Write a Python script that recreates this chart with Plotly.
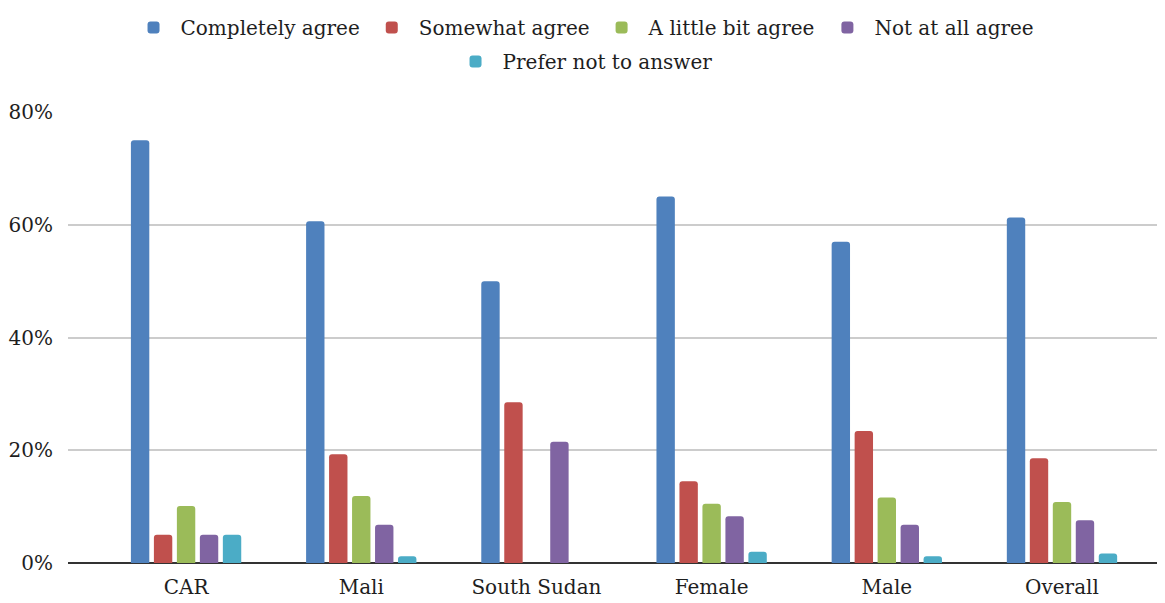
import plotly.graph_objects as go

categories = ["CAR", "Mali", "South Sudan", "Female", "Male", "Overall"]
series_names = ["Completely agree", "Somewhat agree", "A little bit agree",
                "Not at all agree", "Prefer not to answer"]
completely_agree = [75.0, 60.6, 50.0, 65.0, 57.0, 61.3]
somewhat_agree = [5.0, 19.3, 28.5, 14.5, 23.4, 18.6]
little_bit_agree = [10.1, 11.9, 0.0, 10.5, 11.6, 10.8]
not_at_all_agree = [5.0, 6.8, 21.5, 8.3, 6.8, 7.6]
prefer_not = [5.0, 1.2, 0.0, 2.0, 1.2, 1.7]
y_tickvals = [0, 20, 40, 60, 80]
y_ticktext = ["0%", "20%", "40%", "60%", "80%"]

colors = ["#4F81BD", "#C0504D", "#9BBB59", "#8064A2", "#4BACC6"]
values = [completely_agree, somewhat_agree, little_bit_agree, not_at_all_agree, prefer_not]
FONT = "DejaVu Serif"
FS = 20
TXT = "#1E1E1E"

fig = go.Figure()
for i, (name, vals, col) in enumerate(zip(series_names, values, colors)):
    fig.add_trace(go.Bar(
        x=list(range(len(categories))), y=vals, name=name,
        marker=dict(color=col, line=dict(width=0)),
        legend="legend" if i < 4 else "legend2",
        hovertemplate="%{y:.1f}%<extra>" + name + "</extra>",
    ))

# page body has an 8px margin: figure is sized/offset to compensate
fig.update_layout(
    width=1157, height=595,
    margin=dict(l=60, r=0, t=104, b=40, autoexpand=False),
    paper_bgcolor="white", plot_bgcolor="white",
    barmode="group", bargap=0.344, bargroupgap=0.2, barcornerradius=3,
    font=dict(family=FONT, size=FS, color=TXT),
    xaxis=dict(
        tickmode="array", tickvals=list(range(len(categories))), ticktext=categories,
        range=[-0.674, 5.588], showgrid=False, zeroline=False,
        showline=False, ticks="", ticklabelstandoff=10,
        tickfont=dict(size=FS, color=TXT, family=FONT),
    ),
    yaxis=dict(
        range=[0, 80], tickvals=y_tickvals, ticktext=y_ticktext,
        showgrid=True, gridcolor="#CCCCCC", gridwidth=1.5,
        zeroline=True, zerolinecolor="#333333", zerolinewidth=2,
        ticks="", ticklabelstandoff=14, tickfont=dict(size=FS, color=TXT, family=FONT),
    ),
    legend=dict(
        orientation="h", xref="container", yref="container",
        x=0.497, xanchor="center", y=1.0, yanchor="top",
        itemwidth=44,
        font=dict(size=FS, family=FONT, color=TXT),
        itemclick=False, itemdoubleclick=False,
    ),
    legend2=dict(
        orientation="h", xref="container", yref="container",
        x=0.497, xanchor="center", y=0.943, yanchor="top",
        itemwidth=44,
        font=dict(size=FS, family=FONT, color=TXT),
        itemclick=False, itemdoubleclick=False,
    ),
)

fig.write_html("out.html")
